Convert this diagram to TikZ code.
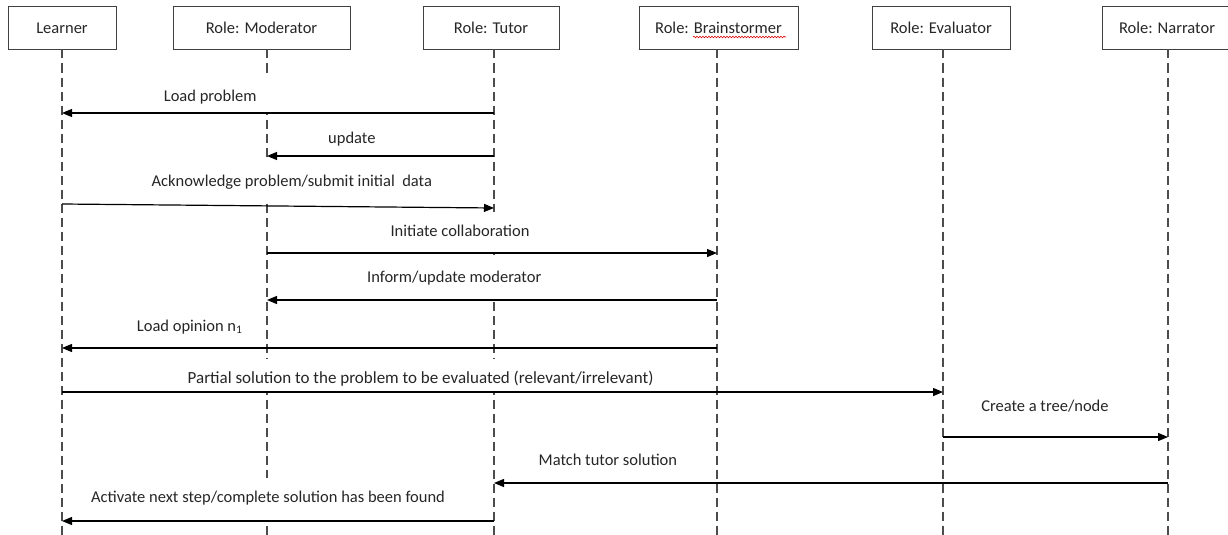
\documentclass[tikz,border=0pt]{standalone}
\usepackage{fontspec}
\setmainfont{Carlito}
\usetikzlibrary{arrows.meta,decorations.pathmorphing}
\begin{document}
\begin{tikzpicture}[x=1pt,y=-1pt,
  role/.style={draw=black!75,line width=1pt,minimum height=43pt,inner sep=0pt,text=black!85,font=\fontsize{16.5}{18}\selectfont},
  life/.style={draw=black!70,line width=1.1pt,dash pattern=on 9pt off 5pt},
  msg/.style={draw=black,line width=1.2pt,-{Triangle[length=10pt,width=8pt]}},
  lbl/.style={font=\fontsize{16.5}{18}\selectfont,text=black!85,fill=white,inner ysep=0pt,inner xsep=14pt,anchor=base,text height=24pt,text depth=#1pt},
  squiggle/.style={draw=red!85!black,line width=0.6pt,decorate,decoration={snake,amplitude=0.8pt,segment length=3pt}}]
\useasboundingbox (0,0) rectangle (1228,535);
% role boxes
\node[role,minimum width=108pt] (learner) at (62,28) {Learner};
\node[role,minimum width=177pt] (moderator) at (261.5,28) {Role: Moderator};
\node[role,minimum width=136pt] (tutor) at (491,28) {Role: Tutor};
\node[role,minimum width=159pt] (brain) at (718.5,28) {Role: Brainstormer};
\node[role,minimum width=138pt] (evaluator) at (941,28) {Role: Evaluator};
\node[role,minimum width=130pt] (narrator) at (1167,28) {Role: Narrator};
\draw[squiggle] (693,37) -- (786,37);
% lifelines
\coordinate (lL) at (62,49.5);
\coordinate (lM) at (267,49.5);
\coordinate (lT) at (494,49.5);
\coordinate (lB) at (717,49.5);
\coordinate (lE) at (943,49.5);
\coordinate (lN) at (1168,49.5);
\coordinate (bL) at (62,535);
\coordinate (bM) at (267,535);
\coordinate (bT) at (494,535);
\coordinate (bB) at (717,535);
\coordinate (bE) at (943,535);
\coordinate (bN) at (1168,535);
\draw[life] (lL) -- (bL);
\draw[life] (lM) -- (bM);
\draw[life] (lT) -- (bT);
\draw[life] (lB) -- (bB);
\draw[life] (lE) -- (bE);
\draw[life] (lN) -- (bN);
% messages
\draw[msg] (lT |- 0,113) -- node[lbl=10.5,pos=0.657,yshift=12pt] {Load problem} (lL |- 0,113);
\draw[msg] (lT |- 0,156) -- node[lbl=11.5,pos=0.626,yshift=13pt] {update} (lM |- 0,156);
\draw[msg] (lL |- 0,204) -- node[lbl=17,pos=0.532,yshift=20pt] {Acknowledge problem/submit initial\ \ data} (lT |- 0,208);
\draw[msg] (lM |- 0,253) -- node[lbl=15.5,pos=0.429,yshift=17pt] {Initiate collaboration} (lB |- 0,253);
\draw[msg] (lB |- 0,300) -- node[lbl=16.5,pos=0.584,yshift=18pt] {Inform/update moderator} (lM |- 0,300);
\draw[msg] (lB |- 0,348) -- node[lbl=15.5,pos=0.805,yshift=17pt] {Load opinion n\textsubscript{1}} (lL |- 0,348);
\draw[msg] (lL |- 0,392) -- node[lbl=7.5,pos=0.407,yshift=9pt,font=\fontsize{17}{18}\selectfont] {Partial solution to the problem to be evaluated (relevant/irrelevant)} (lE |- 0,392);
\draw[msg] (lE |- 0,437) -- node[lbl=24.5,pos=0.453,yshift=26pt] {Create a tree/node} (lN |- 0,437);
\draw[msg] (lN |- 0,483) -- node[lbl=16.5,pos=0.831,yshift=18pt] {Match tutor solution} (lT |- 0,483);
\draw[msg] (lT |- 0,521) -- node[lbl=17.5,pos=0.523,yshift=19pt] {Activate next step/complete solution has been found} (lL |- 0,521);
\end{tikzpicture}
\end{document}
